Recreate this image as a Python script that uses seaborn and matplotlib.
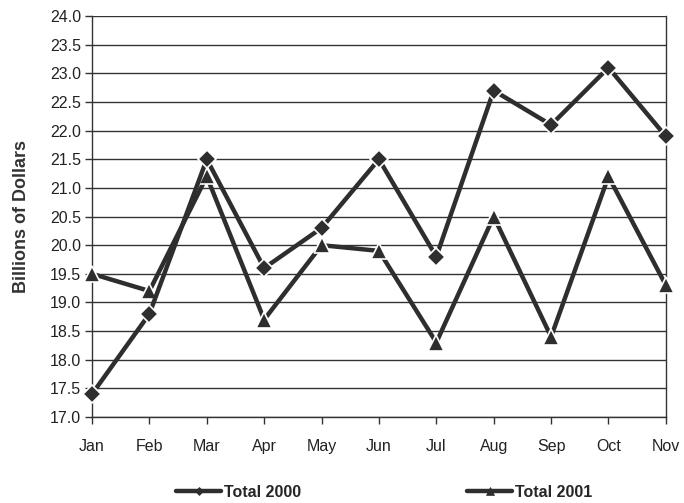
import pandas as pd
import matplotlib.pyplot as plt
import seaborn as sns

months = ['Jan', 'Feb', 'Mar', 'Apr', 'May', 'Jun', 'Jul', 'Aug', 'Sep', 'Oct', 'Nov']
total_2000 = [17.4, 18.8, 21.5, 19.6, 20.3, 21.5, 19.8, 22.7, 22.1, 23.1, 21.9]
total_2001 = [19.5, 19.2, 21.2, 18.7, 20.0, 19.9, 18.3, 20.5, 18.4, 21.2, 19.3]

df = pd.DataFrame({'month': range(len(months)), 'Total 2000': total_2000, 'Total 2001': total_2001})

sns.set_style('white')
plt.rcParams['font.family'] = ['Liberation Sans', 'DejaVu Sans']

fig = plt.figure(figsize=(6.84, 5.03), dpi=100)
ax = fig.add_axes([0.1345, 0.171, 0.839, 0.797])

line_color = '#2e2e2e'
sns.lineplot(data=df, x='month', y='Total 2000', ax=ax, color=line_color, linewidth=3.2,
             marker='D', markersize=9, markeredgecolor='white', markeredgewidth=1.2,
             label='Total 2000', zorder=4, clip_on=False)
sns.lineplot(data=df, x='month', y='Total 2001', ax=ax, color=line_color, linewidth=3.2,
             marker='^', markersize=11, markeredgecolor='white', markeredgewidth=1.2,
             label='Total 2001', zorder=3, clip_on=False)

ax.set_xlim(0, len(months) - 1)
ax.set_ylim(17.0, 24.0)
ax.set_yticks([17.0 + 0.5 * i for i in range(15)])
ax.set_yticklabels([f'{17.0 + 0.5 * i:.1f}' for i in range(15)], fontsize=11.5, color='#222222')
ax.set_xticks(range(len(months)))
ax.set_xticklabels(months, fontsize=11.5, color='#222222')
ax.tick_params(axis='both', direction='out', length=5, width=1, color='#333333',
               bottom=True, left=True, pad=3)
ax.tick_params(axis='x', pad=11)

ax.grid(axis='y', color='#333333', linewidth=1)
ax.set_axisbelow(True)
for side in ['left', 'bottom', 'right']:
    ax.spines[side].set_color('#333333')
    ax.spines[side].set_linewidth(1)
ax.spines['top'].set_visible(False)

ax.set_xlabel('')
ax.set_ylabel('Billions of Dollars', fontsize=13, fontweight='bold', color='#333333', labelpad=14)

handles, labels = ax.get_legend_handles_labels()
ax.get_legend().remove()
leg = fig.legend(handles, labels, loc='lower center', bbox_to_anchor=(0.562, -0.022), ncol=2,
                 frameon=False, markerscale=0.5, handlelength=2.8, handletextpad=0.2,
                 columnspacing=10.4, prop={'weight': 'bold', 'size': 11.5})
for h in leg.legend_handles:
    h.set_markeredgecolor(line_color)
    h.set_markeredgewidth(0.5)

fig.savefig('out.png', dpi=100)
